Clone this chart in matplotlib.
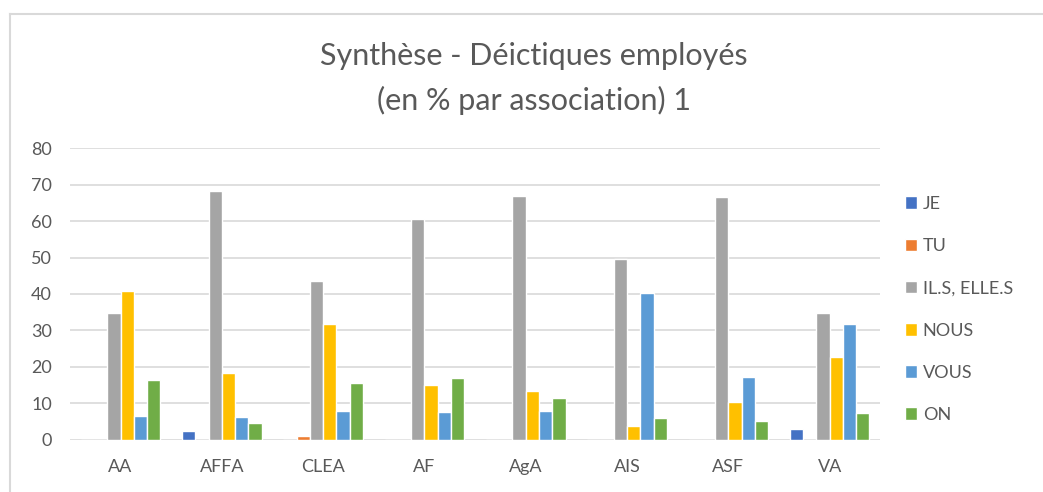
import numpy as np
import matplotlib.pyplot as plt
from matplotlib.lines import Line2D

plt.rcParams['font.family'] = ['Lato', 'DejaVu Sans']

categories = ['AA', 'AFFA', 'CLEA', 'AF', 'AgA', 'AIS', 'ASF', 'VA']
series_names = ['JE', 'TU', 'IL.S, ELLE.S', 'NOUS', 'VOUS', 'ON']
je = [0, 2.3, 0, 0, 0, 0, 0, 3.0]
tu = [0, 0, 1.0, 0, 0, 0, 0, 0]
ils = [34.7, 68.3, 43.5, 60.5, 67.0, 49.6, 66.7, 34.7]
nous = [40.7, 18.3, 31.8, 15.0, 13.3, 3.7, 10.5, 22.8]
vous = [6.6, 6.3, 7.9, 7.6, 8.0, 40.3, 17.2, 31.8]
on = [16.3, 4.6, 15.5, 17.0, 11.6, 5.9, 5.2, 7.4]
colors = ['#4472C4', '#ED7D31', '#A5A5A5', '#FFC000', '#5B9BD5', '#70AD47']

data = [je, tu, ils, nous, vous, on]
txt = '#595959'

fig = plt.figure(figsize=(10.43, 4.92), dpi=100)
ax = fig.add_axes([0.067, 0.106, 0.777, 0.593])

x = np.arange(len(categories))
slot = 0.131
for i, (name, vals, c) in enumerate(zip(series_names, data, colors)):
    ax.bar(x + (i - 2.5) * slot, vals, width=slot, color=c, edgecolor='white',
           linewidth=1.0, label=name, zorder=3)

ax.set_xlim(-0.5, len(categories) - 0.5)
ax.set_ylim(0, 80)
ax.set_yticks(range(0, 81, 10))
ax.set_xticks(x)
ax.set_xticklabels(categories)
ax.grid(axis='y', color='#D9D9D9', linewidth=1.2, zorder=0)
for s in ax.spines.values():
    s.set_visible(False)
ax.tick_params(length=0, labelsize=13, colors=txt)
ax.tick_params(axis='x', pad=14)
ax.tick_params(axis='y', pad=13)

fig.text(0.512, 0.887, 'Synthèse - Déictiques employés', ha='center', va='center',
         fontsize=22, color=txt)
fig.text(0.512, 0.795, '(en % par association) 1', ha='center', va='center',
         fontsize=22, color=txt)

leg = ax.legend(loc='center left', bbox_to_anchor=(1.01, 0.447), frameon=False,
                fontsize=13, labelspacing=1.45, handlelength=0.7, handleheight=0.7,
                handletextpad=0.3)
for t in leg.get_texts():
    t.set_color(txt)

fig.add_artist(Line2D([10 / 1043, 1.0], [1 - 14 / 492, 1 - 14 / 492], color='#D9D9D9', linewidth=1.5))
fig.add_artist(Line2D([10 / 1043, 10 / 1043], [0, 1 - 14 / 492], color='#D9D9D9', linewidth=1.5))

fig.savefig('out.png', dpi=100)
